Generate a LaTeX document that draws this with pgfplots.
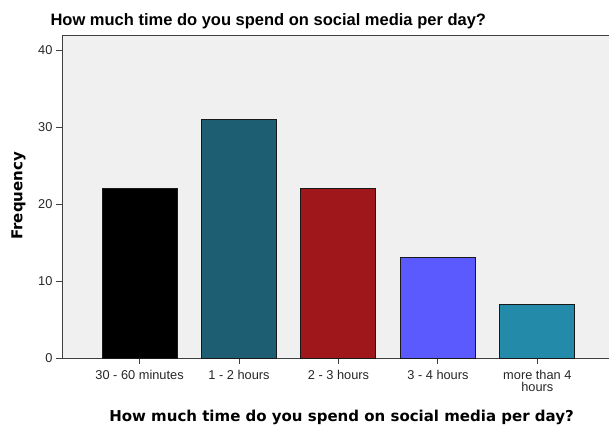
\documentclass[border=0pt]{standalone}
\usepackage{fontspec}
\setmainfont{Liberation Sans}
\newfontfamily\labfont{DejaVu Sans}
\usepackage{pgfplots}
\pgfplotsset{compat=1.18}
\definecolor{bg}{HTML}{F0F0F0}
\definecolor{axisgray}{HTML}{404040}
\definecolor{c1}{HTML}{000000}
\definecolor{c2}{HTML}{1E5E73}
\definecolor{c3}{HTML}{A0171B}
\definecolor{c4}{HTML}{5A5AFF}
\definecolor{c5}{HTML}{238AAA}
\begin{document}
\begin{tikzpicture}
\useasboundingbox (-62bp,-70bp) rectangle (547bp,358bp);
\begin{axis}[
  scale only axis, width=547bp, height=323bp,
  xmin=-0.78, xmax=4.72, ymin=0, ymax=41.95,
  axis background/.style={fill=bg},
  axis line style={draw=axisgray, line width=0.9bp},
  xtick={0,1,2,3,4},
  xticklabels={30 - 60 minutes, 1 - 2 hours, 2 - 3 hours, 3 - 4 hours, {more than 4\\hours}},
  xticklabel style={align=center, font=\fontsize{12.8bp}{12.5bp}\selectfont, text=black!85, yshift=-2.5bp},
  yticklabel style={font=\fontsize{12.8bp}{13bp}\selectfont, text=black!85},
  /pgf/number format/assume math mode=true,
  ytick={0,10,20,30,40},
  tick align=outside, major tick length=6bp,
  tick style={draw=axisgray, line width=1bp},
  xtick pos=bottom, ytick pos=left,
  title={How much time do you spend on social media per day?},
  title style={at={(axis description cs:-0.0274,1)}, anchor=base west, yshift=4bp, font=\bfseries\fontsize{16.5bp}{18bp}\selectfont},
  xlabel={How much time do you spend on social media per day?},
  xlabel style={at={(axis description cs:0.511,0)}, anchor=base, yshift=-63.7bp, font=\labfont\bfseries\fontsize{15bp}{16bp}\selectfont},
  ylabel={Frequency},
  ylabel style={at={(axis description cs:-0.0793,0.502)}, anchor=center, rotate=0, font=\labfont\bfseries\fontsize{15bp}{16bp}\selectfont},
]
\addplot[ybar, bar width=75bp, bar shift=0pt, fill=c1, draw=black!90, line width=1bp] coordinates {(0,22)};
\addplot[ybar, bar width=75bp, bar shift=0pt, fill=c2, draw=black!90, line width=1bp] coordinates {(1,31)};
\addplot[ybar, bar width=75bp, bar shift=0pt, fill=c3, draw=black!90, line width=1bp] coordinates {(2,22)};
\addplot[ybar, bar width=75bp, bar shift=0pt, fill=c4, draw=black!90, line width=1bp] coordinates {(3,13)};
\addplot[ybar, bar width=75bp, bar shift=0pt, fill=c5, draw=black!90, line width=1bp] coordinates {(4,7)};
\end{axis}
\end{tikzpicture}
\end{document}
